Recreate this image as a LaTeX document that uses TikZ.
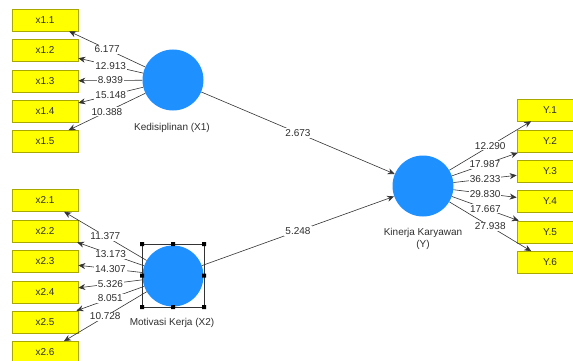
\documentclass[tikz,border=0pt]{standalone}
\usepackage{fontspec}
\setmainfont{Liberation Sans}
\definecolor{PlsBlue}{HTML}{1E90FF}
\definecolor{PlsYellow}{HTML}{FFFF00}
\definecolor{PlsBorder}{HTML}{A8A800}
\definecolor{PlsLine}{HTML}{333333}
\definecolor{PlsText}{HTML}{2E2E2E}
\usetikzlibrary{arrows.meta,positioning}
\tikzset{
    % Indicator box
    itembox/.style={
        draw=PlsBorder,
        fill=PlsYellow,
        line width=0.6pt,
        minimum width=66pt,
        minimum height=22pt,
        inner sep=0pt,
        text=PlsText,
        font=\fontsize{10}{12}\selectfont
    },
    % Latent variable
    latentnode/.style={
        circle,
        fill=PlsBlue,
        minimum size=61pt,
        inner sep=0pt
    },
    % Latent caption
    captionnode/.style={
        text=PlsText,
        align=center,
        inner sep=0pt,
        font=\fontsize{10}{12.5}\selectfont
    },
    % Arrow
    myarrow/.style={
        -{Stealth[length=7pt,width=6pt]},
        line width=0.6pt,
        draw=PlsLine
    },
    % Coefficient label
    coeflabel/.style={
        fill=white,
        text=PlsText,
        inner sep=1pt,
        pos=0.5,
        font=\fontsize{10}{11}\selectfont
    },
    % Selection frame
    selframe/.style={
        draw=PlsLine,
        line width=0.6pt
    }
}
\begin{document}
\begin{tikzpicture}[x=1pt,y=-1pt]
    \useasboundingbox (0,0) rectangle (573,361);
    \clip (0,0) rectangle (573,361);

    % Latent variables
    \node[latentnode] (x1) at (173,80) {};
    \node[latentnode] (x2) at (173,276) {};
    \node[latentnode] (y) at (423,186) {};
    \node[captionnode] (capx1) at (172,128) {Kedisiplinan (X1)};
    \node[captionnode] (capx2) at (172,323) {Motivasi Kerja (X2)};
    \node[captionnode] (capy) at (423,239) {Kinerja Karyawan\\(Y)};

    % Selection frame round X2
    \draw[selframe] (142,244) rectangle (204,307);
    \fill[black] (140,242) rectangle +(4,4) (171,242) rectangle +(4,4) (202,242) rectangle +(4,4)
        (140,273.5) rectangle +(4,4) (202,273.5) rectangle +(4,4)
        (140,305) rectangle +(4,4) (171,305) rectangle +(4,4) (202,305) rectangle +(4,4);

    % Indicators X1
    \node[itembox] (i11) at (45,20) {x1.1};
    \node[itembox] (i12) at (45,50.5) {x1.2};
    \node[itembox] (i13) at (45,81) {x1.3};
    \node[itembox] (i14) at (45,111) {x1.4};
    \node[itembox] (i15) at (45,141.5) {x1.5};

    % Indicators X2
    \node[itembox] (i21) at (45,200.5) {x2.1};
    \node[itembox] (i22) at (45,231) {x2.2};
    \node[itembox] (i23) at (45,261.5) {x2.3};
    \node[itembox] (i24) at (45,292) {x2.4};
    \node[itembox] (i25) at (45,322) {x2.5};
    \node[itembox] (i26) at (45,352.5) {x2.6};

    % Indicators Y
    \node[itembox] (iy1) at (550,110) {Y.1};
    \node[itembox] (iy2) at (550,141.5) {Y.2};
    \node[itembox] (iy3) at (550,171.5) {Y.3};
    \node[itembox] (iy4) at (550,201.5) {Y.4};
    \node[itembox] (iy5) at (550,232) {Y.5};
    \node[itembox] (iy6) at (550,262.5) {Y.6};

    % Inner model
    \draw[myarrow] (x1) -- node[coeflabel] {2.673} (y);
    \draw[myarrow] (x2) -- node[coeflabel] {5.248} (y);

    % Outer model X1
    \draw[myarrow] (x1) -- node[coeflabel] {6.177} (i11);
    \draw[myarrow] (x1) -- node[coeflabel] {12.913} (i12);
    \draw[myarrow] (x1) -- node[coeflabel] {8.939} (i13);
    \draw[myarrow] (x1) -- node[coeflabel] {15.148} (i14);
    \draw[myarrow] (x1) -- node[coeflabel] {10.388} (i15);

    % Outer model X2
    \draw[myarrow] (x2) -- node[coeflabel] {11.377} (i21);
    \draw[myarrow] (x2) -- node[coeflabel] {13.173} (i22);
    \draw[myarrow] (x2) -- node[coeflabel] {14.307} (i23);
    \draw[myarrow] (x2) -- node[coeflabel] {5.326} (i24);
    \draw[myarrow] (x2) -- node[coeflabel] {8.051} (i25);
    \draw[myarrow] (x2) -- node[coeflabel] {10.728} (i26);

    % Outer model Y
    \draw[myarrow] (y) -- node[coeflabel] {12.290} (iy1);
    \draw[myarrow] (y) -- node[coeflabel] {17.987} (iy2);
    \draw[myarrow] (y) -- node[coeflabel] {36.233} (iy3);
    \draw[myarrow] (y) -- node[coeflabel] {29.830} (iy4);
    \draw[myarrow] (y) -- node[coeflabel] {17.667} (iy5);
    \draw[myarrow] (y) -- node[coeflabel] {27.938} (iy6);
\end{tikzpicture}
\end{document}
